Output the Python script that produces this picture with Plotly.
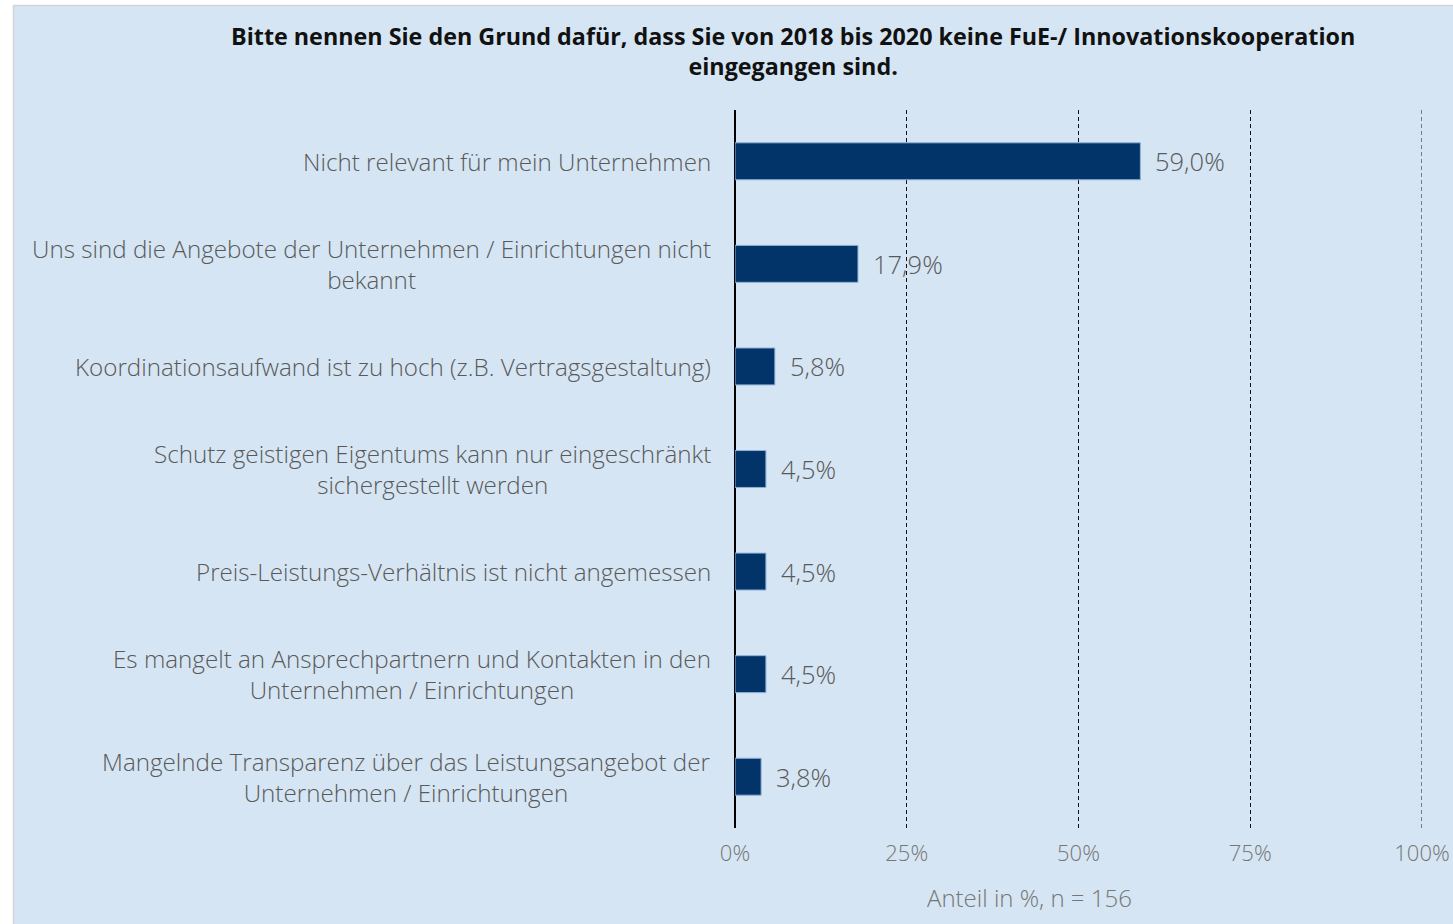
import plotly.graph_objects as go

categories = [
    "Nicht relevant für mein Unternehmen",
    "Uns sind die Angebote der Unternehmen / Einrichtungen nicht<br>bekannt",
    "Koordinationsaufwand ist zu hoch (z.B. Vertragsgestaltung)",
    "Schutz geistigen Eigentums kann nur eingeschränkt<br>sichergestellt werden",
    "Preis-Leistungs-Verhältnis ist nicht angemessen",
    "Es mangelt an Ansprechpartnern und Kontakten in den<br>Unternehmen / Einrichtungen",
    "Mangelnde Transparenz über das Leistungsangebot der<br>Unternehmen / Einrichtungen",
]
values = [59.0, 17.9, 5.8, 4.5, 4.5, 4.5, 3.8]
tick_vals = [0, 25, 50, 75, 100]
tick_text = ["0%", "25%", "50%", "75%", "100%"]
title_text = ("Bitte nennen Sie den Grund dafür, dass Sie von 2018 bis 2020 keine FuE-/ Innovationskooperation"
              "<br>eingegangen sind.")
axis_title = "Anteil in %, n = 156"

W, H = 1453, 924
ML, MR, MT, MB = 735, 31, 110, 96
PW, PH = W - ML - MR, H - MT - MB

def px_x(p):
    return (p - ML) / PW

def px_y(p):
    return 1 - (p - MT) / PH

FONT = "Open Sans"
LABEL_COLOR = "#595959"
TICK_COLOR = "#767676"
DASH = "4px,3px"

fig = go.Figure()
fig.add_trace(go.Bar(
    y=categories, x=values, orientation="h",
    marker=dict(color="#023469", line=dict(color="#8fb0d6", width=1)),
    width=0.36, hoverinfo="skip",
))

annotations = []
for c, v in zip(categories, values):
    annotations.append(dict(
        x=0, y=c, xref="x", yref="y", text=c, showarrow=False,
        xanchor="right", yanchor="middle", align="center", xshift=-22,
        font=dict(family=FONT, size=24.2, color=LABEL_COLOR, weight=300),
    ))
    annotations.append(dict(
        x=v, y=c, xref="x", yref="y", text=f"{v:.1f}".replace(".", ",") + "%",
        showarrow=False, xanchor="left", yanchor="middle", xshift=13,
        font=dict(family=FONT, size=25.5, color=LABEL_COLOR, weight=300),
    ))
annotations.append(dict(
    x=px_x(1029), y=px_y(897), xref="paper", yref="paper", text=axis_title,
    showarrow=False, xanchor="center", yanchor="middle",
    font=dict(family=FONT, size=24, color=TICK_COLOR, weight=300),
))
annotations.append(dict(
    x=px_x(793), y=px_y(51), xref="paper", yref="paper",
    text="<b>" + title_text + "</b>", showarrow=False,
    xanchor="center", yanchor="middle", align="center",
    font=dict(family=FONT, size=23.3, color="#111111"),
))

fig.update_layout(
    width=W, height=H,
    margin=dict(l=ML, r=MR, t=MT, b=MB, pad=0, autoexpand=False),
    paper_bgcolor="white",
    plot_bgcolor="rgba(0,0,0,0)",
    showlegend=False,
    separators=",.",
    xaxis=dict(
        range=[0, 100], tickvals=tick_vals, ticktext=tick_text,
        showgrid=True, gridcolor="#111111", gridwidth=1, griddash=DASH,
        zeroline=True, zerolinecolor="#000000", zerolinewidth=2,
        showline=False, ticks="", ticklabelstandoff=10, automargin=False,
        tickfont=dict(family=FONT, size=22, color=TICK_COLOR, weight=300),
        fixedrange=True,
    ),
    yaxis=dict(
        autorange="reversed", showticklabels=False, showgrid=False,
        zeroline=False, showline=False, ticks="", fixedrange=True,
        automargin=False,
    ),
    shapes=[
        dict(
            type="rect", xref="paper", yref="paper",
            x0=px_x(13.5), x1=px_x(W + 5), y0=px_y(H + 5), y1=px_y(5.5),
            fillcolor="#d5e5f3", line=dict(color="#d4d4d4", width=1.5),
            layer="below",
        ),
        dict(
            type="line", xref="x", yref="paper", x0=100, x1=100, y0=0, y1=1,
            line=dict(color="#111111", width=1, dash=DASH),
        ),
    ],
    annotations=annotations,
)

fig.write_html("out.html", config={"displayModeBar": False},
               post_script="document.body.style.margin='0';")
